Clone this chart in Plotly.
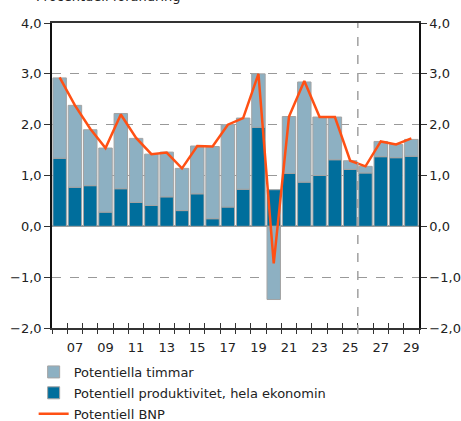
import plotly.graph_objects as go

years = list(range(2006, 2030))
tick_vals = list(range(2007, 2030, 2))
tick_text = ["07", "09", "11", "13", "15", "17", "19", "21", "23", "25", "27", "29"]
boundary_ticks = [y - 0.5 for y in range(2006, 2031)]

produktivitet = [1.34, 0.77, 0.80, 0.28, 0.74, 0.47, 0.41, 0.58, 0.31, 0.64,
                 0.15, 0.38, 0.73, 1.95, 0.72, 1.04, 0.87, 1.00, 1.31, 1.12,
                 1.05, 1.37, 1.35, 1.38]
timmar = [1.58, 1.61, 1.10, 1.26, 1.48, 1.26, 1.01, 0.88, 0.83, 0.94,
          1.42, 1.62, 1.40, 1.05, -1.44, 1.12, 1.97, 1.15, 0.84, 0.17,
          0.13, 0.30, 0.26, 0.33]
bnp = [2.93, 2.38, 1.92, 1.54, 2.20, 1.74, 1.42, 1.45, 1.14, 1.58,
       1.57, 2.00, 2.13, 3.00, -0.73, 2.16, 2.86, 2.15, 2.15, 1.29,
       1.18, 1.67, 1.61, 1.73]
forecast_start = 2025.5

y_ticks = [-2, -1, 0, 1, 2, 3, 4]
y_range = [-2, 4]
x_range = [2005.5, 2029.5]

LIGHT = "#8DB0C2"
DARK = "#006E9C"
LINE = "#FF5014"
OUTLINE = "#A3A3A3"
FONT = "DejaVu Sans"

fig = go.Figure()
fig.add_trace(go.Bar(x=years, y=produktivitet, name="Potentiell produktivitet, hela ekonomin",
                     marker=dict(color=DARK, line=dict(color=OUTLINE, width=1)),
                     legendrank=2, legendgroup="b"))
fig.add_trace(go.Bar(x=years, y=timmar, name="Potentiella timmar",
                     marker=dict(color=LIGHT, line=dict(color=OUTLINE, width=1)),
                     legendrank=1, legendgroup="a"))
fig.add_trace(go.Scatter(x=years, y=bnp, name="Potentiell BNP", mode="lines",
                         line=dict(color=LINE, width=2.5), legendrank=3, legendgroup="c"))
fig.add_trace(go.Scatter(x=[years[0]], y=[0], yaxis="y2", showlegend=False,
                         mode="markers", marker=dict(opacity=0), hoverinfo="skip"))
fig.add_trace(go.Scatter(x=[years[0]], y=[0], xaxis="x2", showlegend=False, mode="markers",
                         marker=dict(opacity=0), hoverinfo="skip"))
fig.add_trace(go.Scatter(x=[years[0]], y=[0], xaxis="x3", showlegend=False, mode="markers",
                         marker=dict(opacity=0), hoverinfo="skip"))

fig.add_shape(type="line", xref="x", yref="paper", x0=forecast_start, x1=forecast_start,
              y0=-0.02, y1=1, line=dict(color="#A0A0A0", width=1.5, dash="dash"), layer="above")

fig.update_layout(
    width=461, height=421,
    margin=dict(l=52, r=42, t=23, b=93, autoexpand=False),
    plot_bgcolor="white", paper_bgcolor="white",
    separators=", ",
    barmode="relative", bargap=0.12,
    font=dict(family=FONT, size=13, color="#222"),
    showlegend=True,
    legend=dict(x=-0.05, y=-0.095, xanchor="left", yanchor="top", orientation="v",
                font=dict(size=13, color="#222"), tracegroupgap=1,
                bgcolor="rgba(0,0,0,0)", itemwidth=30),
    xaxis=dict(range=x_range, tickvals=tick_vals, ticktext=tick_text, ticks="outside",
               ticklen=7, tickcolor="rgba(0,0,0,0)",
               showline=True, linecolor="#333", linewidth=1.5, mirror=True,
               showgrid=False, zeroline=False, tickfont=dict(size=13), automargin=False),
    xaxis2=dict(range=x_range, overlaying="x", side="bottom", tickvals=boundary_ticks,
                ticks="outside", ticklen=5, tickcolor="#333", showticklabels=False,
                showgrid=False, zeroline=False, showline=False, automargin=False),
    xaxis3=dict(range=x_range, overlaying="x", side="bottom", tickvals=boundary_ticks,
                ticks="inside", ticklen=5, tickcolor="#333", showticklabels=False,
                showgrid=False, zeroline=False, showline=False, automargin=False),
    yaxis=dict(range=y_range, tickvals=y_ticks, tickformat=".1f", ticks="outside", ticklen=6,
               tickcolor="#333", showline=True, linecolor="#111", linewidth=1.5,
               showgrid=True, gridcolor="#999", griddash="dash", gridwidth=1,
               zeroline=True, zerolinecolor="#999", zerolinewidth=2, automargin=False),
    yaxis2=dict(range=y_range, tickvals=y_ticks, tickformat=".1f", overlaying="y", side="right",
                ticks="outside", ticklen=6, tickcolor="#333", showline=True, linecolor="#111",
                linewidth=1.5, showgrid=False, zeroline=False, automargin=False),
)

fig.add_annotation(text="Procentuell förändring", xref="paper", yref="paper",
                   x=-0.05, y=1.055, xanchor="left", yanchor="bottom", showarrow=False,
                   font=dict(size=13, color="#222"))

fig.write_html("out.html", config={"displayModeBar": False},
               post_script="document.body.style.margin='0';document.body.style.padding='0';"
                           "document.documentElement.style.overflow='hidden';")
